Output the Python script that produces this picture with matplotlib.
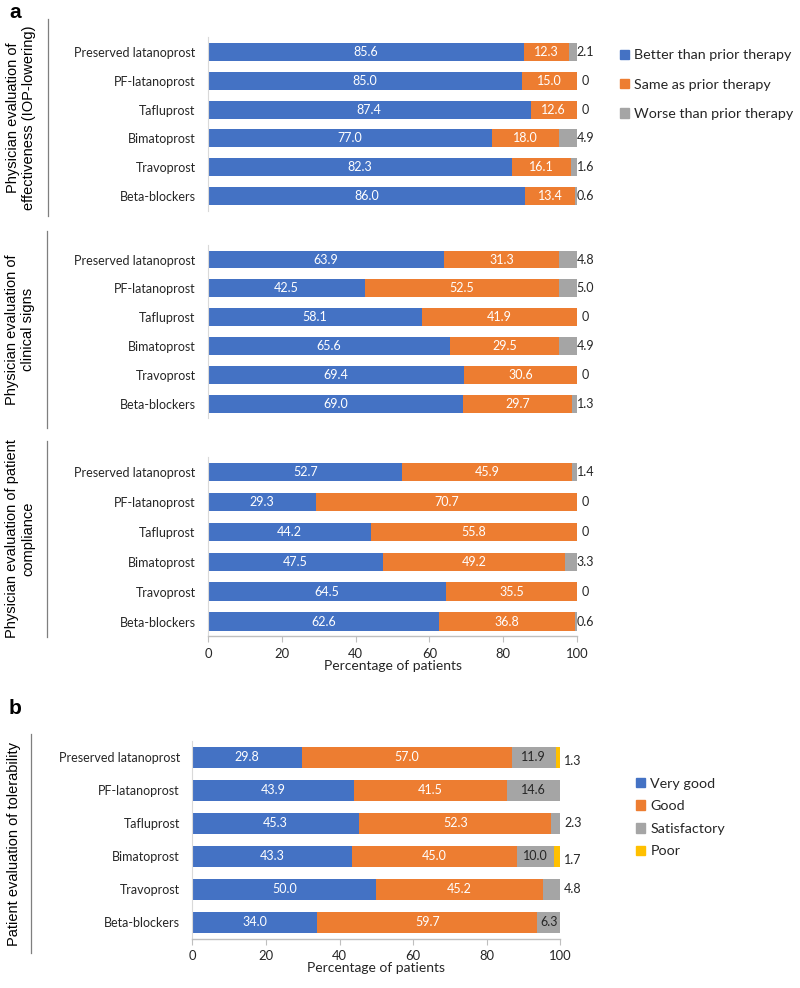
import matplotlib
matplotlib.use('Agg')
import matplotlib.pyplot as plt
from matplotlib.patches import Patch
from matplotlib.lines import Line2D
import numpy as np

drugs = ['Preserved latanoprost', 'PF-latanoprost', 'Tafluprost',
         'Bimatoprost', 'Travoprost', 'Beta-blockers']

# panel a - physician evaluation
eff_better = [85.6, 85.0, 87.4, 77.0, 82.3, 86.0]
eff_same = [12.3, 15.0, 12.6, 18.0, 16.1, 13.4]
eff_worse = [2.1, 0, 0, 4.9, 1.6, 0.6]

sig_better = [63.9, 42.5, 58.1, 65.6, 69.4, 69.0]
sig_same = [31.3, 52.5, 41.9, 29.5, 30.6, 29.7]
sig_worse = [4.8, 5.0, 0, 4.9, 0, 1.3]

comp_better = [52.7, 29.3, 44.2, 47.5, 64.5, 62.6]
comp_same = [45.9, 70.7, 55.8, 49.2, 35.5, 36.8]
comp_worse = [1.4, 0, 0, 3.3, 0, 0.6]

# panel b - patient evaluation
tol_verygood = [29.8, 43.9, 45.3, 43.3, 50.0, 34.0]
tol_good = [57.0, 41.5, 52.3, 45.0, 45.2, 59.7]
tol_satis = [11.9, 14.6, 2.3, 10.0, 4.8, 6.3]
tol_poor = [1.3, 0, 0, 1.7, 0, 0]

a_labels = ['Better than prior therapy', 'Same as prior therapy', 'Worse than prior therapy']
b_labels = ['Very good', 'Good', 'Satisfactory', 'Poor']

BLUE = '#4472C4'
ORANGE = '#ED7D31'
GRAY = '#A5A5A5'
YELLOW = '#FFC000'
TXT = '#262626'
TFONT = 'Lato'
TS = 9.0

fig = plt.figure(figsize=(8, 9.88), dpi=100)


def style_axis(ax, show_x):
    ax.set_xlim(0, 100)
    ax.set_ylim(5.5, -0.5)
    for s in ['top', 'right']:
        ax.spines[s].set_visible(False)
    ax.spines['left'].set_color('#D9D9D9')
    ax.spines['left'].set_linewidth(0.8)
    ax.tick_params(axis='y', length=0, pad=9, labelsize=TS, labelcolor=TXT)
    for t in ax.get_yticklabels():
        t.set_fontfamily(TFONT)
    if show_x:
        ax.spines['bottom'].set_color('#BFBFBF')
        ax.spines['bottom'].set_linewidth(1.0)
        ax.set_xticks(np.arange(0, 101, 20))
        ax.tick_params(axis='x', length=4, color='#BFBFBF', pad=4,
                       labelsize=TS + 0.4, labelcolor=TXT)
        for t in ax.get_xticklabels():
            t.set_fontfamily(TFONT)
        ax.set_xlabel('Percentage of patients', fontsize=10, fontfamily=TFONT,
                      color=TXT, labelpad=0)
    else:
        ax.spines['bottom'].set_visible(False)
        ax.set_xticks([])


def draw_a(ax, better, same, worse, show_x):
    y = np.arange(len(drugs))
    better = np.array(better)
    same = np.array(same)
    worse = np.array(worse)
    h = 0.62
    ax.barh(y, better, height=h, color=BLUE)
    ax.barh(y, same, left=better, height=h, color=ORANGE)
    ax.barh(y, worse, left=better + same, height=h, color=GRAY)
    for i in range(len(drugs)):
        ax.text(better[i] / 2, y[i], f'{better[i]:.1f}', color='white',
                ha='center', va='center', fontsize=TS, fontfamily=TFONT)
        ax.text(better[i] + same[i] / 2, y[i], f'{same[i]:.1f}', color='white',
                ha='center', va='center', fontsize=TS, fontfamily=TFONT)
        wl = '0' if worse[i] == 0 else f'{worse[i]:.1f}'
        ax.text(102.3, y[i], wl, color=TXT, ha='center', va='center',
                fontsize=TS, fontfamily=TFONT, clip_on=False)
    ax.set_yticks(y)
    ax.set_yticklabels(drugs)
    style_axis(ax, show_x)


ax1 = fig.add_axes([0.26, 0.7868, 0.46125, 0.1754])
ax2 = fig.add_axes([0.26, 0.5768, 0.46125, 0.1751])
ax3 = fig.add_axes([0.26, 0.3558, 0.46125, 0.1814])
draw_a(ax1, eff_better, eff_same, eff_worse, False)
draw_a(ax2, sig_better, sig_same, sig_worse, False)
draw_a(ax3, comp_better, comp_same, comp_worse, True)

# panel b
axb = fig.add_axes([0.2404, 0.0496, 0.46, 0.2004])
y = np.arange(len(drugs))
vg = np.array(tol_verygood)
gd = np.array(tol_good)
st = np.array(tol_satis)
pr = np.array(tol_poor)
h = 0.63
axb.barh(y, vg, height=h, color=BLUE)
axb.barh(y, gd, left=vg, height=h, color=ORANGE)
axb.barh(y, st, left=vg + gd, height=h, color=GRAY)
axb.barh(y, pr, left=vg + gd + st, height=h, color=YELLOW)
for i in range(len(drugs)):
    axb.text(vg[i] / 2, y[i], f'{vg[i]:.1f}', color='white', ha='center',
             va='center', fontsize=TS, fontfamily=TFONT)
    axb.text(vg[i] + gd[i] / 2, y[i], f'{gd[i]:.1f}', color='white', ha='center',
             va='center', fontsize=TS, fontfamily=TFONT)
    if st[i] >= 6:
        axb.text(vg[i] + gd[i] + st[i] / 2, y[i], f'{st[i]:.1f}', color=TXT,
                 ha='center', va='center', fontsize=TS, fontfamily=TFONT)
        if pr[i] > 0:
            axb.text(101, y[i] + 0.1, f'{pr[i]:.1f}', color=TXT, ha='left',
                     va='center', fontsize=TS, fontfamily=TFONT, clip_on=False)
    else:
        axb.text(101, y[i], f'{st[i]:.1f}', color=TXT, ha='left',
                 va='center', fontsize=TS, fontfamily=TFONT, clip_on=False)
axb.set_yticks(y)
axb.set_yticklabels(drugs)
style_axis(axb, True)

# legends
fig.legend(handles=[Patch(color=c) for c in [BLUE, ORANGE, GRAY]], labels=a_labels,
           loc='upper left', bbox_to_anchor=(0.759, 0.963), frameon=False,
           handlelength=0.65, handleheight=0.65, handletextpad=0.35,
           labelspacing=1.2, prop={'family': TFONT, 'size': 10.3}, labelcolor=TXT)
fig.legend(handles=[Patch(color=c) for c in [BLUE, ORANGE, GRAY, YELLOW]], labels=b_labels,
           loc='upper left', bbox_to_anchor=(0.779, 0.226), frameon=False,
           handlelength=0.65, handleheight=0.65, handletextpad=0.35,
           labelspacing=0.74, prop={'family': TFONT, 'size': 10.3}, labelcolor=TXT)

# group labels and brackets (pixel coords -> figure fraction)
W, H = 800, 988
groups = [
    ('Physician evaluation of\neffectiveness (IOP-lowering)', 48, 19, 216, 21),
    ('Physician evaluation of\nclinical signs', 47, 231, 428, 20),
    ('Physician evaluation of patient\ncompliance', 47, 441, 637, 20),
    ('Patient evaluation of tolerability', 31, 734, 953, 14),
]
for txt, lx, y0, y1, tx in groups:
    fig.add_artist(Line2D([lx / W, lx / W], [1 - y0 / H, 1 - y1 / H],
                          color='#7F7F7F', linewidth=0.9))
    fig.text(tx / W, 1 - (y0 + y1) / 2 / H, txt, rotation=90, ha='center',
             va='center', multialignment='center', fontsize=10.5,
             fontfamily='Liberation Sans', color='black', linespacing=1.25)

fig.text(15 / W, 1 - 12 / H, 'a', fontsize=15, fontweight='bold',
         fontfamily='Liberation Sans', ha='center', va='center')
fig.text(15 / W, 1 - 708 / H, 'b', fontsize=15, fontweight='bold',
         fontfamily='Liberation Sans', ha='center', va='center')

fig.savefig('out.png', dpi=100)
